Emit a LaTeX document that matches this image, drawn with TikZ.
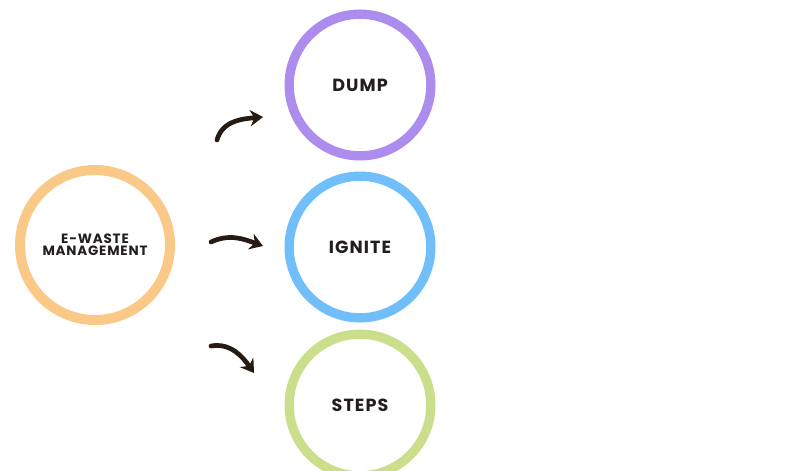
\documentclass[tikz,border=0pt]{standalone}
\usepackage{fontspec}
\setmainfont{Poppins}
\newfontfamily\widefont{Poppins}[LetterSpace=6]
\usepackage{tikz}
\usetikzlibrary{arrows.meta,positioning}
\definecolor{anneau}{RGB}{250,200,135}
\definecolor{violet}{RGB}{172,140,236}
\definecolor{bleu}{RGB}{112,190,250}
\definecolor{vert}{RGB}{202,222,140}
\definecolor{encre}{RGB}{38,26,18}
\definecolor{texte}{RGB}{35,30,30}

\begin{document}
\begin{tikzpicture}[x=0.03cm,y=0.03cm,
    ring/.style={circle,draw=#1,line width=0.28cm,minimum size=4.25cm,
                 font=\widefont\bfseries\fontsize{15}{16}\selectfont,text=texte,align=center},
    curl/.style={encre,line width=4pt,line cap=round,-{Stealth[length=11pt,width=14pt]}}]
    \useasboundingbox (0,0) rectangle (790,470);
    \node[ring=anneau,minimum size=4.5cm,line width=0.3cm,
          font=\widefont\bfseries\fontsize{11.5}{12}\selectfont] (ewaste) at (95,225)
          {E-WASTE\\[-2pt]MANAGEMENT};
    \node[ring=violet] (dump) at (360,385) {DUMP};
    \node[ring=bleu] (ignite) at (360,223) {IGNITE};
    \node[ring=vert] (steps) at (360,65) {STEPS};
    % curly arrows
    \coordinate (a1) at (217,330); \coordinate (b1) at (263,353);
    \coordinate (a2) at (211,228); \coordinate (b2) at (263,224);
    \coordinate (a3) at (211,124); \coordinate (b3) at (254,97);
    \draw[curl] (a1) to[out=75,in=185] (b1);
    \draw[curl] (a2) to[out=25,in=160] (b2);
    \draw[curl] (a3) to[out=10,in=125] (b3);
  \end{tikzpicture}
\end{document}
